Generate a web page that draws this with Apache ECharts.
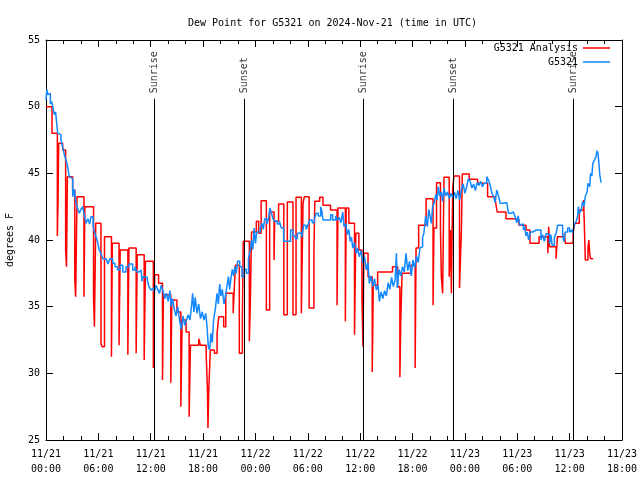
<!DOCTYPE html>
<html><head><meta charset="utf-8">
<script src="https://cdn.jsdelivr.net/npm/echarts@6/dist/echarts.min.js"></script>
<style>html,body{margin:0;padding:0;background:#fff}#c{width:640px;height:480px}</style>
</head><body><div id="c"></div>
<script>
const chartTitle = 'Dew Point for G5321 on 2024-Nov-21 (time in UTC)';
const seriesNames = ['G5321 Analysis', 'G5321'];
const startMonth = 11, startDay = 21;
const sunHours = [12.37, 22.69, 36.32, 46.64, 60.39];
const sunNames = ['Sunrise', 'Sunset', 'Sunrise', 'Sunset', 'Sunrise'];
const sunLineTop = 50.6;
const sunLabelBase = 51.0;

// [hours since 11/21 00:00 UTC, degrees F]
const analysisData = [
[0,50.0],[0.69,48.0],[1.3,40.3],[1.38,43.0],[1.45,47.25],[1.91,46.75],[2.25,39.25],[2.35,38.0],[2.45,44.75],[3.05,43.75],[3.3,37.0],[3.4,35.75],[3.55,43.25],[4.35,35.75],[4.45,42.5],[5.45,35.6],[5.55,33.5],[5.7,41.25],[6.3,32.2],[6.45,32.0],[6.7,40.25],[7.5,31.25],[7.6,39.75],[8.37,32.1],[8.5,39.25],[9.38,31.4],[9.5,39.4],[10.33,31.5],[10.45,38.9],[11.25,31.0],[11.4,38.4],[12.3,30.4],[12.45,37.4],[12.9,36.75],[13.35,29.5],[13.45,35.9],[14.3,29.3],[14.42,35.5],[15.0,34.6],[15.45,27.5],[15.6,34.0],[16.05,33.1],[16.4,26.75],[16.55,32.1],[17.5,32.6],[17.7,32.1],[18.35,31.5],[18.5,28.75],[18.56,25.9],[18.65,28.75],[18.83,31.75],[19.3,31.5],[19.6,33.0],[19.8,34.25],[20.36,33.5],[20.6,36.0],[21.45,34.5],[21.55,36.0],[21.7,38.1],[22.15,31.5],[22.5,34.0],[22.6,39.9],[23.3,32.4],[23.42,35.6],[23.55,40.6],[24.1,41.4],[24.37,40.5],[24.65,42.95],[25.25,34.75],[25.63,42.1],[26.13,38.5],[26.2,41.4],[26.65,42.7],[27.25,34.4],[27.65,42.85],[28.3,34.4],[28.65,43.2],[29.26,34.5],[29.45,42.75],[29.6,43.25],[30.15,34.9],[30.7,39.1],[30.8,42.9],[31.36,43.2],[31.74,42.6],[32.6,42.25],[33.35,35.1],[33.45,42.4],[34.3,33.9],[34.4,42.4],[34.7,41.25],[35.35,32.9],[35.5,40.5],[35.85,39.25],[36.2,35.75],[36.32,32.0],[36.42,39.0],[36.9,37.25],[37.38,30.1],[37.5,36.6],[38.0,37.6],[39.7,38.0],[40.3,36.5],[40.55,29.7],[40.65,33.9],[40.8,37.5],[41.8,38.1],[42.3,30.4],[42.4,39.4],[42.7,41.1],[43.55,43.1],[44.35,35.1],[44.45,40.9],[44.75,44.3],[45.2,40.75],[45.3,37.25],[45.45,36.0],[45.6,44.7],[46.2,37.25],[46.35,40.75],[46.45,36.0],[46.6,43.9],[46.75,44.8],[47.38,36.4],[47.6,40.75],[47.7,44.95],[48.5,44.55],[49.45,44.25],[50.6,43.25],[51.5,42.9],[51.7,42.1],[52.7,41.6],[53.8,41.5],[54.2,41.1],[55.0,40.75],[55.45,39.75],[56.5,40.25],[57.5,39.0],[57.6,41.0],[57.7,39.5],[58.45,38.6],[58.6,40.25],[59.4,40.5],[59.5,39.75],[60.4,40.6],[60.6,41.25],[61.1,42.25],[61.6,43.0],[61.8,38.5],[62.1,39.4],[62.2,40.0],[62.3,39.0],[62.4,38.6],[62.7,38.6]
];

const stationData = [
[0.0,50.5],[0.1,51.3],[0.2,50.9],[0.35,51.0],[0.5,50.2],[0.65,50.4],[0.77,50.0],[0.95,49.4],[1.1,49.6],[1.25,48.6],[1.34,48.0],[1.5,47.9],[1.72,47.5],[1.9,47.0],[2.1,46.4],[2.29,46.0],[2.45,45.6],[2.67,44.75],[2.85,44.6],[3.06,43.25],[3.25,43.8],[3.4,42.9],[3.6,42.4],[3.82,42.0],[4.0,42.3],[4.2,42.5],[4.4,41.8],[4.58,41.25],[4.8,41.6],[5.0,41.2],[5.16,41.75],[5.4,41.0],[5.6,40.5],[5.73,40.25],[5.9,39.9],[6.1,39.25],[6.3,39.0],[6.5,38.6],[6.88,38.5],[7.1,38.2],[7.3,38.6],[7.64,38.25],[7.9,38.0],[8.2,37.75],[8.5,38.1],[8.8,37.6],[9.17,38.0],[9.5,38.2],[9.93,37.75],[10.2,38.0],[10.4,37.6],[10.66,37.75],[10.9,37.9],[11.0,36.9],
[11.1,37.25],[11.3,37.2],[11.6,37.0],[11.8,36.5],[12.0,36.25],[12.2,36.4],[12.4,36.1],[12.6,36.6],[12.8,36.3],[13.0,36.0],[13.2,36.6],[13.4,36.2],[13.6,35.6],[13.8,36.0],[14.0,35.4],[14.2,36.2],[14.35,35.0],[14.5,35.6],[14.7,34.8],[14.9,34.3],[15.1,35.0],[15.3,34.0],[15.5,33.3],[15.7,34.3],[15.9,33.6],[16.1,34.0],[16.3,34.4],[16.5,34.0],[16.7,35.2],[16.8,36.0],[16.95,34.6],[17.1,35.7],[17.3,34.5],[17.5,35.2],[17.7,34.1],[17.9,34.6],[18.1,34.0],[18.3,34.5],[18.45,33.5],[18.6,32.0],[18.75,31.75],[18.9,33.0],[19.05,32.3],[19.2,34.0],[19.4,34.8],[19.6,36.0],[19.75,35.2],[19.9,36.7],[20.05,35.8],[20.2,36.3],[20.4,35.2],[20.55,35.8],[20.75,36.6],[20.9,37.25],[21.05,36.3],[21.2,37.2],[21.35,37.8],[21.5,37.3],[21.65,38.0],[21.8,37.5],[21.95,38.4],
[22.2,38.0],[22.45,37.25],[22.7,37.8],[22.95,37.5],[23.2,38.6],[23.4,39.2],[23.55,40.0],[23.7,39.3],[23.85,40.9],[24.0,39.75],[24.15,40.6],[24.55,40.9],[24.75,41.25],[24.9,40.8],[25.06,41.6],[25.3,41.2],[25.5,41.6],[25.65,42.4],[25.8,42.1],[26.0,41.6],[26.2,41.4],[26.5,41.2],[26.75,41.4],[26.97,40.9],[27.23,39.9],[27.6,39.9],[28.03,40.75],[28.3,40.3],[28.57,40.1],[28.8,40.5],[29.07,40.6],[29.3,40.2],[29.52,41.1],[29.8,40.8],[30.0,41.1],[30.21,41.5],[30.5,41.3],[30.75,41.6],[30.97,42.0],[31.2,41.8],[31.47,42.5],[31.6,42.2],[31.74,41.5],[32.0,41.5],[32.3,41.5],[32.62,41.9],[32.85,41.5],
[33.0,41.5],[33.2,41.8],[33.4,41.5],[33.6,41.7],[33.8,41.3],[34.0,42.1],[34.15,41.0],[34.35,41.2],[34.53,40.4],[34.7,40.8],[34.85,39.9],[35.0,40.2],[35.15,39.4],[35.35,39.8],[35.55,39.0],[35.7,39.4],[35.9,38.75],[36.1,39.2],[36.3,38.3],[36.5,38.75],[36.7,37.75],[36.9,38.3],[37.05,36.75],[37.25,37.3],[37.45,36.5],[37.65,37.1],[37.85,36.25],[38.05,36.6],[38.2,35.4],[38.4,36.1],[38.6,35.6],[38.8,36.2],[39.0,35.8],[39.2,36.8],[39.4,36.3],[39.6,37.2],[39.8,36.5],[40.0,37.0],[40.15,39.0],[40.25,36.4],[40.45,37.8],[40.65,37.3],[40.85,38.0],[41.05,37.6],[41.25,39.0],[41.45,37.7],[41.65,38.4],[41.85,37.3],[42.05,38.5],[42.25,37.9],[42.45,38.8],[42.65,38.3],[42.85,39.4],[43.0,39.5],[43.15,40.2],[43.3,40.5],[43.5,41.8],[43.7,41.0],[43.85,42.3],
[44.0,41.8],[44.15,41.25],[44.3,42.5],[44.5,42.8],[44.65,43.4],[44.8,43.0],[44.95,44.0],[45.1,43.3],[45.3,43.6],[45.45,42.9],[45.6,43.9],[45.8,43.3],[46.0,43.6],[46.2,43.1],[46.4,43.5],[46.6,43.2],[46.8,43.6],[47.0,43.1],[47.2,43.7],[47.4,43.0],[47.6,43.8],[47.8,44.2],[48.0,43.5],[48.2,44.0],[48.4,44.6],[48.6,44.4],[48.8,43.9],[49.0,44.2],[49.2,43.7],[49.4,44.3],[49.6,44.1],[49.8,44.4],[50.0,44.0],[50.2,44.25],[50.5,44.75],[50.7,44.5],[50.9,44.1],[51.1,43.5],[51.3,43.25],[51.45,42.8],[51.65,43.75],[51.85,43.3],[52.05,42.75],[52.4,42.8],[52.8,42.7],[53.0,42.0],[53.3,42.1],[53.55,42.0],[53.75,41.75],[53.95,41.3],[54.1,41.8],[54.3,41.1],[54.5,41.2],[54.7,40.75],[54.85,41.0],
[55.0,40.3],[55.15,40.6],[55.3,40.0],[55.5,40.6],[55.76,40.75],[56.2,40.75],[56.72,40.0],[56.9,40.4],[57.1,39.9],[57.3,40.5],[57.5,40.4],[57.7,39.7],[57.85,40.4],[58.0,39.6],[58.25,40.2],[58.45,40.5],[58.63,41.1],[59.2,40.25],[59.35,39.9],[59.5,40.6],[59.77,40.9],[60.0,40.6],[60.16,40.75],[60.35,40.5],[60.54,41.2],[60.75,41.4],[60.92,41.8],[61.0,42.5],[61.1,42.0],[61.3,42.2],[61.49,42.9],[61.65,42.5],[61.8,43.3],[62.0,43.6],[62.1,44.25],[62.3,44.0],[62.4,45.0],[62.55,44.8],[62.65,45.75],[62.85,46.0],[63.02,46.25],[63.15,46.7],[63.25,46.5],[63.35,45.8],[63.45,44.9],[63.6,44.3]
];

const xMin = 0, xMax = 66, xStep = 6;
const yMin = 25, yMax = 55, yStep = 5;
const FONT = 'DejaVu Sans Mono';

function pad(n){ return (n < 10 ? '0' : '') + n; }
function fmtX(v){
  const d = startDay + Math.floor(v / 24);
  const h = Math.round(v % 24);
  return startMonth + '/' + d + '\n' + pad(h) + ':00';
}

const chart = echarts.init(document.getElementById('c'), null, {renderer:'canvas'});
const axisCommon = {
  axisLine:{onZero:false, lineStyle:{color:'#000', width:1}},
  axisTick:{inside:true, length:7, lineStyle:{color:'#000', width:1}},
  splitLine:{show:false}
};
chart.setOption({
  animation:false,
  backgroundColor:'#fff',
  title:{text:chartTitle, left:183, top:13, textStyle:{fontFamily:FONT, fontSize:10, fontWeight:'normal', color:'#000'}},
  legend:[
    {data:[seriesNames[0]], right:30, top:43, orient:'vertical', align:'right', icon:'rect', itemWidth:27, itemHeight:1.5, padding:0,
     textStyle:{fontFamily:FONT, fontSize:10, color:'#000'}},
    {data:[seriesNames[1]], right:30, top:57, orient:'vertical', align:'right', icon:'rect', itemWidth:27, itemHeight:1.5, padding:0,
     textStyle:{fontFamily:FONT, fontSize:10, color:'#000'}}
  ],
  grid:{left:46, right:18, top:40, bottom:40, containLabel:false, outerBoundsMode:'none'},
  xAxis:[
    Object.assign({type:'value', min:xMin, max:xMax, interval:xStep,
      minorTick:{show:true, splitNumber:3, length:4, lineStyle:{color:'#000'}},
      axisLabel:{formatter:fmtX, color:'#000', fontFamily:FONT, fontSize:10, lineHeight:15, margin:7}}, axisCommon),
    Object.assign({type:'value', position:'top', min:xMin, max:xMax, interval:xStep,
      minorTick:{show:true, splitNumber:3, length:4, lineStyle:{color:'#000'}},
      axisLabel:{show:false}}, axisCommon)
  ],
  yAxis:[
    Object.assign({type:'value', min:yMin, max:yMax, interval:yStep, name:'degrees F', nameLocation:'middle', nameGap:31, nameRotate:90,
      nameTextStyle:{fontFamily:FONT, fontSize:10, color:'#000'},
      axisLabel:{color:'#000', fontFamily:FONT, fontSize:10, margin:6}}, axisCommon),
    Object.assign({type:'value', position:'right', min:yMin, max:yMax, interval:yStep, axisLabel:{show:false}}, axisCommon)
  ],
  series:[
    {name:seriesNames[0], type:'line', step:'end', data:analysisData, showSymbol:false, symbol:'none',
     lineStyle:{color:'#ff0000', width:1.5}, itemStyle:{color:'#ff0000'}, clip:true},
    {name:seriesNames[1], type:'line', step:'end', data:stationData, showSymbol:false, symbol:'none',
     lineStyle:{color:'#1288ff', width:1.5}, itemStyle:{color:'#1288ff'}, clip:true},
    {name:'sun', type:'scatter', symbolSize:0.01, silent:true,
     data:sunHours.map((h,i)=>({value:[h, sunLabelBase], name:sunNames[i]})),
     label:{show:true, formatter:'{b}', rotate:90, position:'inside', align:'left', verticalAlign:'middle',
       fontFamily:FONT, fontSize:10, color:'#000'},
     markLine:{silent:true, symbol:'none', label:{show:false}, lineStyle:{color:'#000', width:1, type:'solid'},
       data:sunHours.map(h=>[{coord:[h, yMin]},{coord:[h, sunLineTop]}])}
    }
  ]
});
</script>
</body></html>
